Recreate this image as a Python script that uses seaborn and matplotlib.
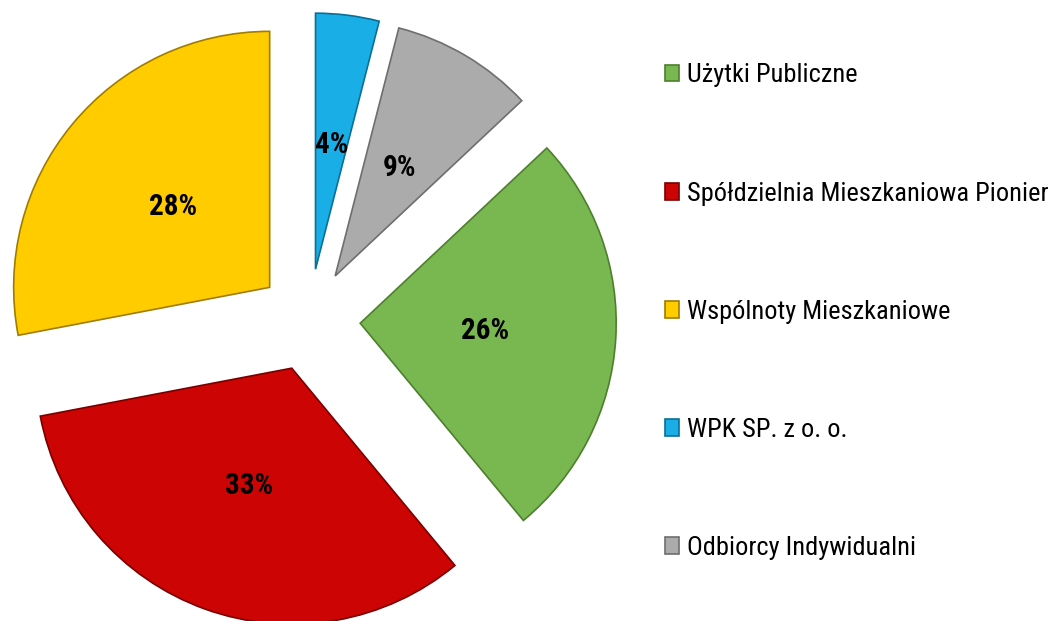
import matplotlib
matplotlib.use("Agg")
import matplotlib.pyplot as plt
import seaborn as sns

# data
categories = ["Użytki Publiczne", "Spółdzielnia Mieszkaniowa Pionier",
              "Wspólnoty Mieszkaniowe", "WPK SP. z o. o.", "Odbiorcy Indywidualni"]
shares = [26, 33, 28, 4, 9]
slice_colors = ["#79B751", "#CC0404", "#FFCC00", "#1AAEE6", "#ABABAB"]
edge_colors = ["#4E7F2E", "#7A0000", "#A07D00", "#0A6F96", "#6E6E6E"]

sns.set_theme(style="white")
plt.rcParams["font.family"] = ["Roboto Condensed", "Archivo Narrow", "Liberation Sans", "DejaVu Sans"]

fig = plt.figure(figsize=(10.62, 6.21), dpi=100)
# pie centre at ~(309, 320) px, radius ~256 px
ax = fig.add_axes([0, 0, 0.6, 1])

wedges, texts, autotexts = ax.pie(
    shares,
    colors=sns.color_palette(slice_colors),
    startangle=43.2,
    counterclock=False,
    explode=[0.2] * len(shares),
    autopct="%1.0f%%",
    pctdistance=0.49,
    wedgeprops=dict(linewidth=1.2),
    textprops=dict(fontsize=21, fontweight="bold", color="black"),
)
for w, ec in zip(wedges, edge_colors):
    w.set_edgecolor(ec)

ax.set_xlim(-309 / 256, (637 - 309) / 256)
ax.set_ylim(-301 / 256, (621 - 301) / 256)
ax.set_aspect("equal", adjustable="box")
ax.axis("off")

fig.legend(
    wedges, categories,
    loc="upper left",
    bbox_to_anchor=(0.626, 0.898),
    frameon=False,
    fontsize=19,
    labelcolor="black",
    handlelength=0.55,
    handleheight=0.6,
    handletextpad=0.3,
    labelspacing=3.57,
    borderpad=0,
    borderaxespad=0,
)

fig.savefig("out.png", dpi=100)
